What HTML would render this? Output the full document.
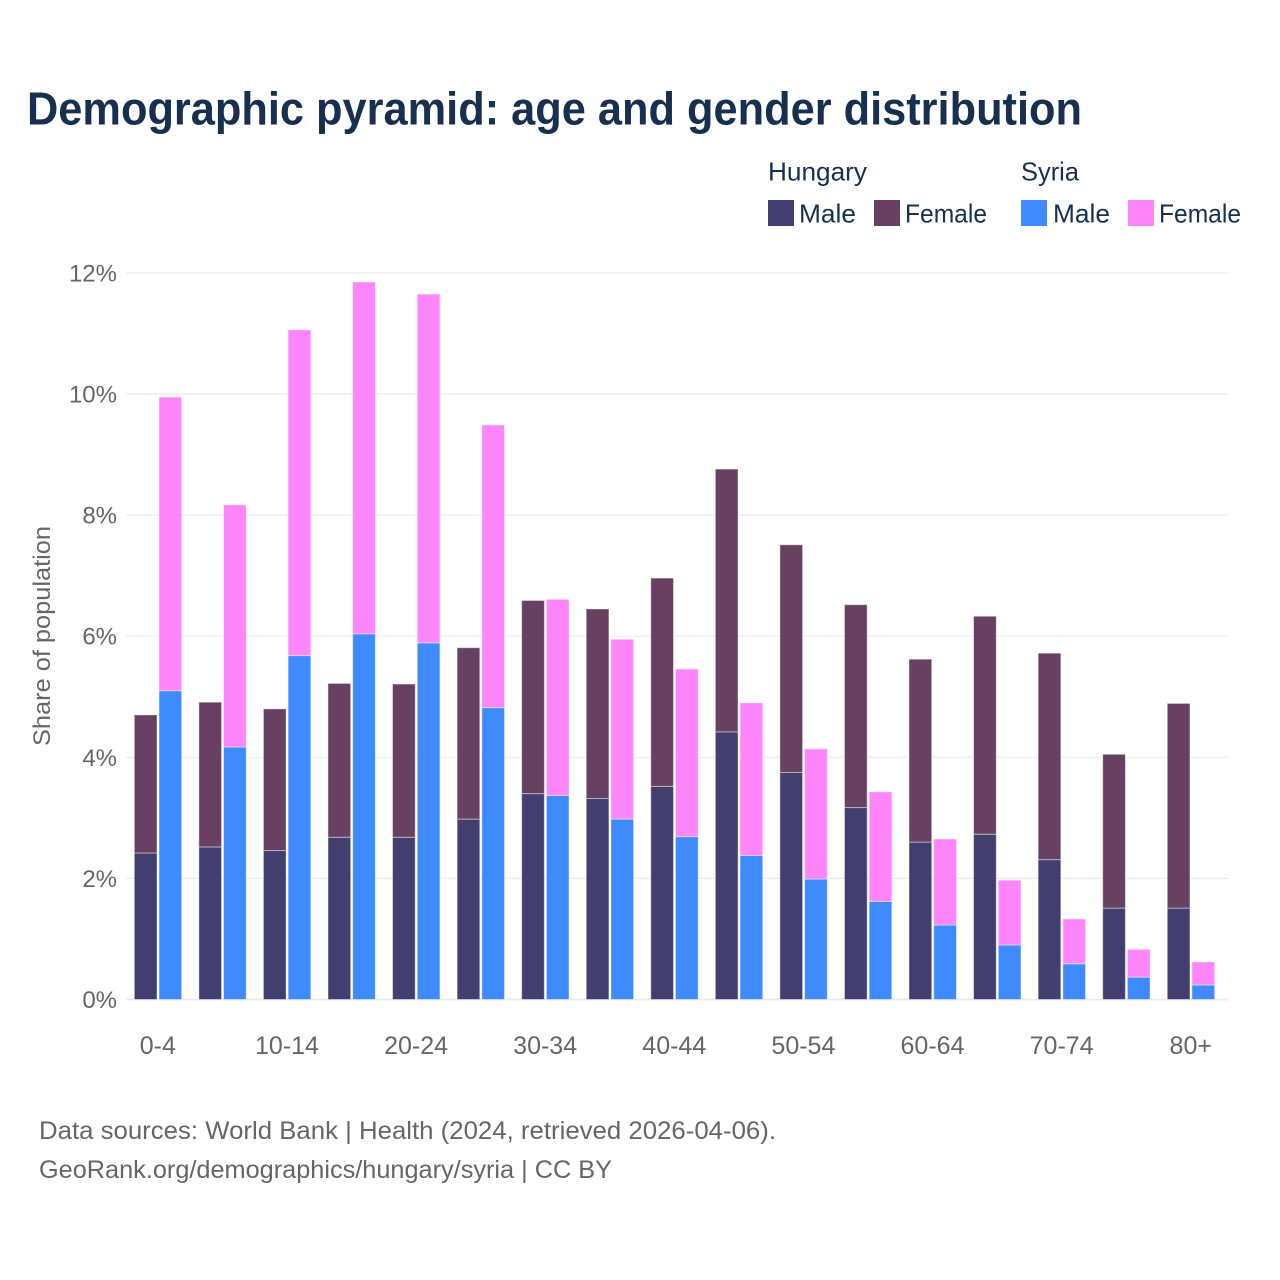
<!DOCTYPE html>
<html lang="en">
<head>
<meta charset="utf-8">
<title>Demographic pyramid</title>
<style>
html,body{margin:0;padding:0;background:#fff;}
svg{display:block;font-family:"Liberation Sans",sans-serif;}
</style>
</head>
<body>
<svg id="chart" width="1280" height="1280" viewBox="0 0 1280 1280" xmlns="http://www.w3.org/2000/svg">
  <rect width="1280" height="1280" fill="#ffffff"/>
  <text x="27" y="124.5" font-size="46" font-weight="700" fill="#17304f" textLength="1055" lengthAdjust="spacingAndGlyphs">Demographic pyramid: age and gender distribution</text>

  <g font-size="26" fill="#17304f">
    <text x="768" y="180.5" textLength="99" lengthAdjust="spacingAndGlyphs">Hungary</text>
    <text x="1021" y="180.5" textLength="58" lengthAdjust="spacingAndGlyphs">Syria</text>
    <rect x="768" y="200" width="26" height="26" fill="#423e70"/>
    <text x="799" y="222.5" textLength="57" lengthAdjust="spacingAndGlyphs">Male</text>
    <rect x="874" y="200" width="26" height="26" fill="#674062"/>
    <text x="905" y="222.5" textLength="82" lengthAdjust="spacingAndGlyphs">Female</text>
    <rect x="1021" y="200" width="26" height="26" fill="#408aff"/>
    <text x="1053" y="222.5" textLength="57" lengthAdjust="spacingAndGlyphs">Male</text>
    <rect x="1128" y="200" width="26" height="26" fill="#ff85fa"/>
    <text x="1159" y="222.5" textLength="82" lengthAdjust="spacingAndGlyphs">Female</text>
  </g>

  <g id="grid"></g>
  <g id="yticks" font-size="24" fill="#666666" text-anchor="end"></g>
  <g id="bars"></g>
  <g id="xticks" font-size="25" fill="#666666" text-anchor="middle"></g>

  <text transform="translate(50,636) rotate(-90)" font-size="24" fill="#666666" text-anchor="middle" textLength="220" lengthAdjust="spacingAndGlyphs">Share of population</text>

  <text x="39" y="1139" font-size="25" fill="#666666" textLength="737" lengthAdjust="spacingAndGlyphs">Data sources: World Bank | Health (2024, retrieved 2026-04-06).</text>
  <text x="39" y="1178" font-size="25" fill="#666666" textLength="573" lengthAdjust="spacingAndGlyphs">GeoRank.org/demographics/hungary/syria | CC BY</text>
</svg>
<script>
const categories = ["0-4","5-9","10-14","15-19","20-24","25-29","30-34","35-39","40-44","45-49","50-54","55-59","60-64","65-69","70-74","75-79","80+"];
const hungaryMale = [2.42,2.52,2.46,2.68,2.68,2.98,3.40,3.32,3.52,4.42,3.75,3.17,2.60,2.73,2.31,1.51,1.51];
const hungaryFemale = [2.28,2.39,2.34,2.54,2.53,2.83,3.19,3.13,3.44,4.34,3.76,3.35,3.02,3.60,3.41,2.54,3.38];
const syriaMale = [5.10,4.17,5.68,6.04,5.89,4.82,3.37,2.98,2.69,2.38,1.99,1.62,1.23,0.90,0.59,0.37,0.24];
const syriaFemale = [4.85,4.00,5.38,5.81,5.76,4.67,3.24,2.97,2.77,2.52,2.15,1.81,1.42,1.07,0.74,0.46,0.38];
const yTickValues = [0,2,4,6,8,10,12];

const NS = "http://www.w3.org/2000/svg";
const yAxis = v => 999.5 - v * 60.55;
const xAxis = i => 158 + i * 64.56;
const barW = 22.7;

const grid = document.getElementById("grid");
const yticks = document.getElementById("yticks");
const bars = document.getElementById("bars");
const xticks = document.getElementById("xticks");

yTickValues.forEach(v => {
  const line = document.createElementNS(NS, "line");
  
  
  line.setAttribute("x1", 126);
  line.setAttribute("x2", 1228);
  line.setAttribute("y1", yAxis(v));
  line.setAttribute("y2", yAxis(v));
  line.setAttribute("stroke", "#ebebeb");
  line.setAttribute("stroke-width", v === 0 ? 2 : 1.2);
  grid.appendChild(line);
  const t = document.createElementNS(NS, "text");
  
  
  t.setAttribute("x", 117);
  t.setAttribute("y", yAxis(v) + 8.5);
  t.textContent = v + "%";
  yticks.appendChild(t);
});

function drawBar(x, base, value, color) {
  const r = document.createElementNS(NS, "rect");
  
  
  r.setAttribute("x", x);
  r.setAttribute("y", yAxis(base + value));
  r.setAttribute("width", barW);
  r.setAttribute("height", yAxis(base) - yAxis(base + value));
  r.setAttribute("fill", color);
  r.setAttribute("stroke", "#ffffff");
  r.setAttribute("stroke-opacity", "0.45");
  r.setAttribute("stroke-width", "1");
  bars.appendChild(r);
}

categories.forEach((c, i) => {
  const cx = xAxis(i);
  drawBar(cx - barW - 1, 0, hungaryMale[i], "#423e70");
  drawBar(cx - barW - 1, hungaryMale[i], hungaryFemale[i], "#674062");
  drawBar(cx + 1, 0, syriaMale[i], "#408aff");
  drawBar(cx + 1, syriaMale[i], syriaFemale[i], "#ff85fa");
  if (i % 2 === 0) {
    const t = document.createElementNS(NS, "text");
    
    
    t.setAttribute("x", cx - 0.2);
    t.setAttribute("y", 1054);
    t.textContent = c;
    xticks.appendChild(t);
  }
});
</script>
</body>
</html>
